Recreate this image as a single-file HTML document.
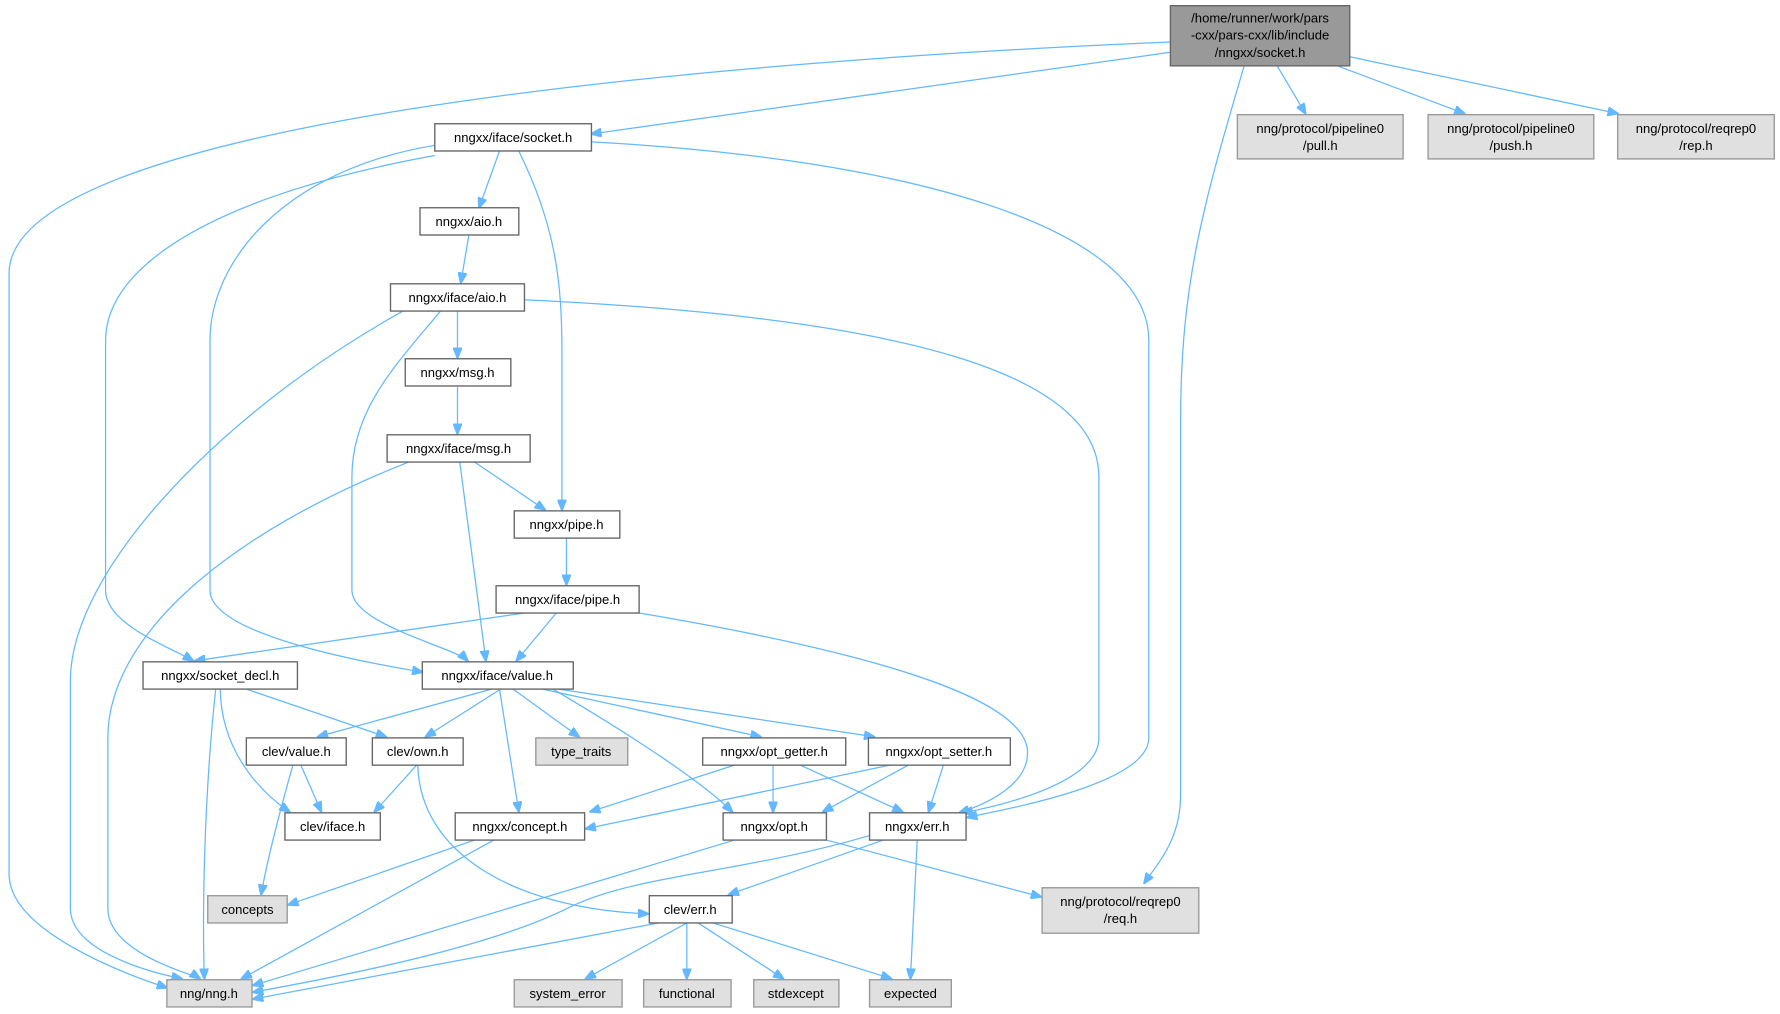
<!DOCTYPE html>
<html><head><meta charset="utf-8"><style>
html,body{margin:0;padding:0;background:#fff;}
svg{display:block;}
text{font-family:"Liberation Sans",sans-serif;font-size:11.5px;fill:#000;text-anchor:middle;}
.n rect{fill:#fff;stroke:#666;stroke-width:1.2;}
.g rect{fill:#e0e0e0;stroke:#999;stroke-width:1.2;}
path{fill:none;stroke:#63b8ff;stroke-width:1.1;}
</style></head><body>
<svg width="1780" height="1014" viewBox="0 0 1568 893.2" preserveAspectRatio="none">
<defs><marker id="a" markerWidth="10" markerHeight="8" refX="9" refY="4" orient="auto" markerUnits="userSpaceOnUse"><path d="M0,0 L10,4 L0,8 Z" style="fill:#63b8ff;stroke:#63b8ff"/></marker></defs>
<g marker-end="url(#a)">
<path d="M1031,37 C600,55 10,110 8,240 L8,770 C8,820 110,858 147,870"/>
<path d="M1031,46 L521,118"/>
<path d="M1125,58 L1150,100"/>
<path d="M1178,58 L1290,100"/>
<path d="M1189,50 L1425,100"/>
<path d="M1096,58 C1060,180 1040,250 1040,370 L1040,700 C1040,740 1020,760 1008,778"/>
<path d="M440,133 L422,183"/>
<path d="M413,207 L406,249"/>
<path d="M457,133 C490,200 495,250 495,310 L495,449"/>
<path d="M521,125 C800,140 1012,200 1012,300 L1012,650 C1012,690 890,712 852,720"/>
<path d="M383,137 C200,170 93,230 93,300 L93,520 C93,550 150,570 170,582"/>
<path d="M383,128 C250,150 185,230 185,300 L185,520 C185,560 330,585 372,592"/>
<path d="M403,274 L403,315"/>
<path d="M355,274 C200,360 62,500 62,600 L62,800 C62,840 140,858 160,862"/>
<path d="M388,274 C350,320 310,360 310,420 L310,520 C310,550 400,570 412,582"/>
<path d="M462,264 C800,280 968,330 968,420 L968,650 C968,690 880,710 848,716"/>
<path d="M403,341 L403,382"/>
<path d="M418,407 L480,449"/>
<path d="M405,407 L428,582"/>
<path d="M360,407 C200,470 95,560 95,650 L95,800 C95,840 170,858 176,862"/>
<path d="M499,474 L499,515"/>
<path d="M462,540 L172,582"/>
<path d="M490,540 L455,582"/>
<path d="M563,540 C800,580 900,620 905,660 C908,690 870,708 845,716"/>
<path d="M217,607 L340,649"/>
<path d="M194,607 C195,670 240,705 255,715"/>
<path d="M190,607 C180,700 178,800 180,862"/>
<path d="M433,607 L280,649"/>
<path d="M441,607 L375,649"/>
<path d="M452,607 L510,649"/>
<path d="M478,607 L670,649"/>
<path d="M492,607 L770,649"/>
<path d="M487,607 C560,650 620,690 645,715"/>
<path d="M440,607 L457,715"/>
<path d="M265,674 L283,715"/>
<path d="M258,674 C245,720 235,760 230,788"/>
<path d="M367,674 L330,715"/>
<path d="M368,674 C370,750 450,800 571,805"/>
<path d="M647,674 L520,715"/>
<path d="M681,674 L681,715"/>
<path d="M705,674 L795,715"/>
<path d="M784,674 L516,730"/>
<path d="M800,674 L725,715"/>
<path d="M831,674 L818,715"/>
<path d="M418,740 L254,797"/>
<path d="M435,740 L213,862"/>
<path d="M647,740 L223,868"/>
<path d="M728,740 L917,790"/>
<path d="M766,736 C650,770 560,770 500,800 C430,835 300,860 223,874"/>
<path d="M778,740 L642,788"/>
<path d="M808,740 L802,862"/>
<path d="M580,813 L223,880"/>
<path d="M605,813 L516,862"/>
<path d="M605,813 L605,862"/>
<path d="M615,813 L690,862"/>
<path d="M628,813 L785,862"/>
</g>
<g class="n"><rect x="1031" y="5" width="158" height="53" style="fill:#999;stroke:#666"/></g>
<text x="1110" y="20">/home/runner/work/pars</text><text x="1110" y="35">-cxx/pars-cxx/lib/include</text><text x="1110" y="50">/nngxx/socket.h</text>
<g class="g"><rect x="1090" y="101" width="146" height="39"/><rect x="1258" y="101" width="146" height="39"/><rect x="1425" y="101" width="138" height="39"/><rect x="918" y="782" width="138" height="40"/><rect x="472" y="650" width="81" height="24"/><rect x="183" y="789" width="70" height="24"/><rect x="147" y="863" width="75" height="24"/><rect x="453" y="863" width="95" height="24"/><rect x="567" y="863" width="77" height="24"/><rect x="664" y="863" width="75" height="24"/><rect x="766" y="863" width="72" height="24"/></g>
<text x="1163" y="117">nng/protocol/pipeline0</text><text x="1163" y="132">/pull.h</text>
<text x="1331" y="117">nng/protocol/pipeline0</text><text x="1331" y="132">/push.h</text>
<text x="1494" y="117">nng/protocol/reqrep0</text><text x="1494" y="132">/rep.h</text>
<text x="987" y="798">nng/protocol/reqrep0</text><text x="987" y="813">/req.h</text>
<text x="512" y="666">type_traits</text><text x="218" y="805">concepts</text><text x="184" y="879">nng/nng.h</text>
<text x="500" y="879">system_error</text><text x="605" y="879">functional</text><text x="701" y="879">stdexcept</text><text x="802" y="879">expected</text>
<g class="n">
<rect x="383" y="109" width="138" height="24"/><rect x="370" y="183" width="87" height="24"/><rect x="344" y="250" width="118" height="24"/><rect x="357" y="316" width="93" height="24"/><rect x="341" y="383" width="126" height="24"/><rect x="453" y="450" width="93" height="24"/><rect x="437" y="516" width="126" height="24"/><rect x="126" y="583" width="136" height="24"/><rect x="372" y="583" width="133" height="24"/><rect x="217" y="650" width="88" height="24"/><rect x="328" y="650" width="80" height="24"/><rect x="619" y="650" width="126" height="24"/><rect x="765" y="650" width="125" height="24"/><rect x="251" y="716" width="84" height="24"/><rect x="401" y="716" width="114" height="24"/><rect x="637" y="716" width="91" height="24"/><rect x="766" y="716" width="85" height="24"/><rect x="572" y="789" width="73" height="24"/>
</g>
<text x="452" y="125">nngxx/iface/socket.h</text><text x="413" y="199">nngxx/aio.h</text><text x="403" y="266">nngxx/iface/aio.h</text><text x="403" y="332">nngxx/msg.h</text><text x="404" y="399">nngxx/iface/msg.h</text><text x="499" y="466">nngxx/pipe.h</text><text x="500" y="532">nngxx/iface/pipe.h</text><text x="194" y="599">nngxx/socket_decl.h</text><text x="438" y="599">nngxx/iface/value.h</text><text x="261" y="666">clev/value.h</text><text x="368" y="666">clev/own.h</text><text x="682" y="666">nngxx/opt_getter.h</text><text x="827" y="666">nngxx/opt_setter.h</text><text x="293" y="732">clev/iface.h</text><text x="458" y="732">nngxx/concept.h</text><text x="682" y="732">nngxx/opt.h</text><text x="808" y="732">nngxx/err.h</text><text x="608" y="805">clev/err.h</text>
</svg>
</body></html>
